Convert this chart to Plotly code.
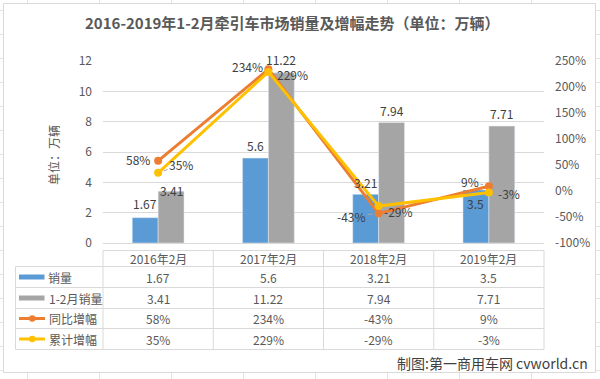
import plotly.graph_objects as go

# ---------------- data ----------------
categories = ["2016年2月", "2017年2月", "2018年2月", "2019年2月"]
sales = [1.67, 5.6, 3.21, 3.5]            # 销量 (万辆)
sales_ytd = [3.41, 11.22, 7.94, 7.71]     # 1-2月销量 (万辆)
yoy_growth = [58, 234, -43, 9]            # 同比增幅 (%)
ytd_growth = [35, 229, -29, -3]           # 累计增幅 (%)
series_names = ["销量", "1-2月销量", "同比增幅", "累计增幅"]
left_ticks = [0, 2, 4, 6, 8, 10, 12]
right_ticks = [-100, -50, 0, 50, 100, 150, 200, 250]

title_text = "2016-2019年1-2月牵引车市场销量及增幅走势（单位：万辆）"
left_axis_title = "单位：万辆"
credit_text = "制图:第一商用车网 cvworld.cn"

# ---------------- style ----------------
FONT = "Noto Sans CJK SC, Noto Sans, sans-serif"
C_BLUE, C_GRAY, C_ORANGE, C_YELLOW = "#5B9BD5", "#A5A5A5", "#ED7D31", "#FFC000"
C_TEXT, C_LABEL, C_GRID = "#595959", "#404040", "#D9D9D9"

W, H = 600, 379
L, R, T, B = 103, 56, 61, 136
PW, PH = W - L - R, H - T - B


def pxx(x):
    return (x - L) / PW


def pxy(y):
    return (H - B - y) / PH


fig = go.Figure()

fig.add_trace(go.Bar(x=categories, y=sales, name=series_names[0], marker_color=C_BLUE,
                     offsetgroup="a", yaxis="y"))
fig.add_trace(go.Bar(x=categories, y=sales_ytd, name=series_names[1], marker_color=C_GRAY,
                     offsetgroup="b", yaxis="y"))
fig.add_trace(go.Scatter(x=categories, y=yoy_growth, name=series_names[2], yaxis="y2",
                         mode="lines+markers", line=dict(color=C_ORANGE, width=3),
                         marker=dict(color=C_ORANGE, size=8), cliponaxis=False))
fig.add_trace(go.Scatter(x=categories, y=ytd_growth, name=series_names[3], yaxis="y2",
                         mode="lines+markers", line=dict(color=C_YELLOW, width=3),
                         marker=dict(color=C_YELLOW, size=8), cliponaxis=False))

annotations = []
shapes = []


def ann(**kw):
    d = dict(showarrow=False, xanchor="center", yanchor="middle")
    d.update(kw)
    annotations.append(d)


# bar data labels (x shift, y shift in px)
sales_lbl = [(0, 14), (0, 13), (0, 12), (0, -14)]
ytd_lbl = [(0, 1), (0, 13), (0, 12), (0, 13)]
for i, c in enumerate(categories):
    ann(x=c, y=sales[i], xref="x", yref="y", text=str(sales[i]),
        xshift=-13 + sales_lbl[i][0], yshift=sales_lbl[i][1],
        font=dict(size=12, color=C_LABEL, family=FONT))
    ann(x=c, y=sales_ytd[i], xref="x", yref="y", text=str(sales_ytd[i]),
        xshift=13 + ytd_lbl[i][0], yshift=ytd_lbl[i][1],
        font=dict(size=12, color=C_LABEL, family=FONT))

# line data labels: (dx, dy up, leader)
yoy_lbl = [(-20, 1, False), (-21, 3, False), (-27, -3, True), (-19, 5, True)]
ytd_lbl2 = [(23, 8, True), (24, -3, False), (20, -5, False), (20, -1, False)]
for vals, offs in ((yoy_growth, yoy_lbl), (ytd_growth, ytd_lbl2)):
    for i, c in enumerate(categories):
        dx, dy, leader = offs[i]
        a = dict(x=c, y=vals[i], xref="x", yref="y2", text=f"{vals[i]}%",
                 font=dict(size=12, color=C_LABEL, family=FONT))
        if leader:
            a.update(showarrow=True, ax=dx, ay=-dy, arrowhead=0, arrowwidth=1,
                     arrowcolor="#A6A6A6", standoff=6)
        else:
            a.update(xshift=dx, yshift=dy)
        ann(**a)

# title
ann(x=pxx(292), y=pxy(22.5), xref="paper", yref="paper", text=f"<b>{title_text}</b>",
    font=dict(size=15, color=C_TEXT, family=FONT))
# left axis title
ann(x=pxx(53), y=pxy(155), xref="paper", yref="paper", text=left_axis_title,
    textangle=-90, font=dict(size=12, color=C_TEXT, family=FONT))
# credit
ann(x=pxx(590), y=pxy(362.5), xref="paper", yref="paper", text=credit_text,
    xanchor="right", font=dict(size=14, color=C_LABEL, family=FONT))


def hline(x0, x1, y, color=C_GRID):
    shapes.append(dict(type="line", xref="paper", yref="paper", x0=pxx(x0), x1=pxx(x1),
                       y0=pxy(y), y1=pxy(y), line=dict(color=color, width=1)))


def vline(x, y0, y1, color=C_GRID):
    shapes.append(dict(type="line", xref="paper", yref="paper", x0=pxx(x), x1=pxx(x),
                       y0=pxy(y0), y1=pxy(y1), line=dict(color=color, width=1)))


# sheet gridlines outside the chart frame
SHEET = "#E3E3E3"
for xs in [27, 99, 171, 243, 315, 387, 459, 531]:
    vline(xs + 0.5, 0, 3, SHEET)
    vline(xs + 0.5, 372, 379, SHEET)
for ys in range(10, 379, 24):
    hline(0, 3, ys + 0.5, SHEET)
    hline(596, 600, ys + 0.5, SHEET)
# chart frame
shapes.append(dict(type="rect", xref="paper", yref="paper", x0=pxx(3.5), x1=pxx(595.5),
                   y0=pxy(3.5), y1=pxy(372.5), line=dict(color=C_GRID, width=1)))

# data table
x_left = 15.5
col_edges = [L + k * PW / 4 for k in range(5)]
row_edges = [250.5, 266.5, 287.5, 308.5, 328.5, 349.5]
hline(col_edges[0], col_edges[-1], row_edges[0])
for ye in row_edges[1:]:
    hline(x_left, col_edges[-1], ye)
vline(x_left, row_edges[1], row_edges[-1])
for xe in col_edges:
    vline(xe, row_edges[0], row_edges[-1])

row_mid = [(row_edges[k] + row_edges[k + 1]) / 2 for k in range(5)]
for i, c in enumerate(categories):
    ann(x=c, y=pxy(row_mid[0]), xref="x", yref="paper", text=c,
        font=dict(size=12, color=C_TEXT, family=FONT))
    cells = [str(sales[i]), str(sales_ytd[i]), f"{yoy_growth[i]}%", f"{ytd_growth[i]}%"]
    for r, txt in enumerate(cells):
        ann(x=c, y=pxy(row_mid[r + 1]), xref="x", yref="paper", text=txt,
            font=dict(size=12, color=C_TEXT, family=FONT))

# legend keys in the table
key_colors = [C_BLUE, C_GRAY, C_ORANGE, C_YELLOW]
for r, name in enumerate(series_names):
    yc = row_mid[r + 1]
    if r < 2:
        shapes.append(dict(type="rect", xref="paper", yref="paper", x0=pxx(19), x1=pxx(44.5),
                           y0=pxy(yc - 2.5), y1=pxy(yc + 2.5), fillcolor=key_colors[r],
                           line=dict(width=0)))
    else:
        shapes.append(dict(type="line", xref="paper", yref="paper", x0=pxx(19), x1=pxx(45),
                           y0=pxy(yc), y1=pxy(yc), line=dict(color=key_colors[r], width=3)))
        shapes.append(dict(type="circle", xref="paper", yref="paper", x0=pxx(29), x1=pxx(35.5),
                           y0=pxy(yc - 3.2), y1=pxy(yc + 3.2), fillcolor=key_colors[r],
                           line=dict(width=0)))
    ann(x=pxx(46.5), y=pxy(yc), xref="paper", yref="paper", text=name,
        xanchor="left", font=dict(size=12, color=C_TEXT, family=FONT))

fig.update_layout(
    width=W, height=H,
    margin=dict(l=L, r=R, t=T, b=B, pad=0, autoexpand=False),
    paper_bgcolor="white", plot_bgcolor="white",
    showlegend=False,
    barmode="group", bargap=0.53, bargroupgap=0,
    font=dict(family=FONT, size=12, color=C_TEXT),
    xaxis=dict(type="category", range=[-0.5, 3.5], showticklabels=False, showgrid=False,
               zeroline=False, showline=False, fixedrange=True, automargin=False),
    yaxis=dict(range=[0, 12], tickvals=left_ticks, showgrid=True, gridcolor=C_GRID, gridwidth=1,
               zeroline=True, zerolinecolor=C_GRID, zerolinewidth=1, showline=False, automargin=False,
               ticks="", ticklabelstandoff=10, tickfont=dict(size=12, color=C_TEXT, family=FONT)),
    yaxis2=dict(range=[-100, 250], tickvals=right_ticks, ticktext=[f"{v}%" for v in right_ticks],
                overlaying="y", side="right", showgrid=False, zeroline=False, showline=False,
                automargin=False,
                ticks="", ticklabelstandoff=10, tickfont=dict(size=12, color=C_TEXT, family=FONT)),
    annotations=annotations,
    shapes=shapes,
)

fig.write_html(
    "out.html",
    config={"displayModeBar": False},
    post_script="document.body.style.margin='0';document.body.style.padding='0';"
                "document.documentElement.style.overflow='hidden';",
)
